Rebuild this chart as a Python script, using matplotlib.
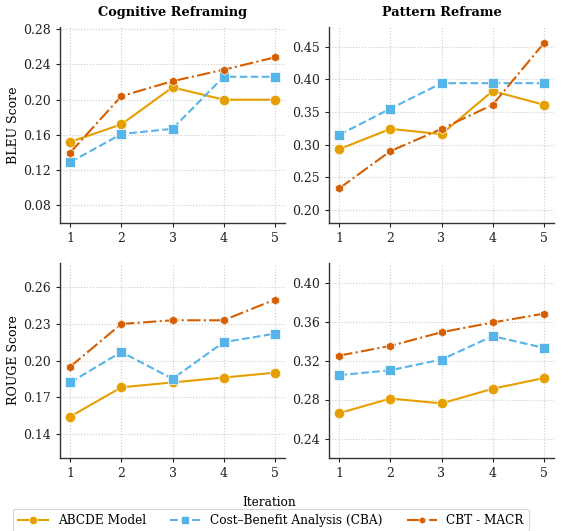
import matplotlib
matplotlib.use("Agg")
import matplotlib.pyplot as plt
from matplotlib.ticker import FixedLocator, FormatStrFormatter

plt.rcParams["font.family"] = ["DejaVu Serif"]

iterations = [1, 2, 3, 4, 5]
methods = ["ABCDE Model", "Cost\u2013Benefit Analysis (CBA)", "CBT - MACR"]

bleu_cognitive = {
    "ABCDE Model": [0.152, 0.172, 0.214, 0.200, 0.200],
    "Cost\u2013Benefit Analysis (CBA)": [0.129, 0.161, 0.167, 0.226, 0.226],
    "CBT - MACR": [0.140, 0.204, 0.221, 0.234, 0.248],
}
bleu_pattern = {
    "ABCDE Model": [0.293, 0.324, 0.316, 0.382, 0.361],
    "Cost\u2013Benefit Analysis (CBA)": [0.315, 0.355, 0.394, 0.394, 0.394],
    "CBT - MACR": [0.233, 0.290, 0.324, 0.361, 0.455],
}
rouge_cognitive = {
    "ABCDE Model": [0.154, 0.178, 0.182, 0.186, 0.190],
    "Cost\u2013Benefit Analysis (CBA)": [0.182, 0.207, 0.185, 0.215, 0.222],
    "CBT - MACR": [0.195, 0.230, 0.233, 0.233, 0.250],
}
rouge_pattern = {
    "ABCDE Model": [0.266, 0.281, 0.276, 0.291, 0.302],
    "Cost\u2013Benefit Analysis (CBA)": [0.305, 0.310, 0.321, 0.345, 0.333],
    "CBT - MACR": [0.325, 0.335, 0.349, 0.359, 0.368],
}

col_titles = ["Cognitive Reframing", "Pattern Reframe"]
row_labels = ["BLEU Score", "ROUGE Score"]

styles = {
    "ABCDE Model": dict(color="#E69F00", ls="-", marker="o", ms=7.5),
    "Cost\u2013Benefit Analysis (CBA)": dict(color="#56B4E9", ls="--", marker="s", ms=7),
    "CBT - MACR": dict(color="#D55E00", ls="-.", marker="h", ms=6.5),
}

panels = [
    (bleu_cognitive, (0.06, 0.2825), [0.08, 0.12, 0.16, 0.20, 0.24, 0.28], "%.2f"),
    (bleu_pattern, (0.18, 0.48), [0.20, 0.25, 0.30, 0.35, 0.40, 0.45], "%.2f"),
    (rouge_cognitive, (0.12, 0.28), [0.14, 0.17, 0.20, 0.23, 0.26], "%.2f"),
    (rouge_pattern, (0.22, 0.42), [0.24, 0.28, 0.32, 0.36, 0.40], "%.2f"),
]

W, H = 563, 531
fig = plt.figure(figsize=(W / 100, H / 100), dpi=100)

boxes = [
    (60, 27, 225, 196),
    (329, 27, 225, 196),
    (60, 263, 225, 195),
    (329, 263, 225, 195),
]

handles = []
for i, (data, ylim, yticks, fmt) in enumerate(panels):
    x0, y0, w, h = boxes[i]
    ax = fig.add_axes([x0 / W, 1 - (y0 + h) / H, w / W, h / H])
    for m in methods:
        st = styles[m]
        ln, = ax.plot(iterations, data[m], color=st["color"], ls=st["ls"], lw=1.5,
                      marker=st["marker"], ms=st["ms"], mec=(1, 1, 1, 0.7), mew=0.7,
                      label=m, zorder=3)
        if i == 0:
            handles.append(ln)
    ax.set_xlim(0.8, 5.2)
    ax.set_ylim(*ylim)
    ax.set_xticks(iterations)
    ax.yaxis.set_major_locator(FixedLocator(yticks))
    ax.yaxis.set_major_formatter(FormatStrFormatter(fmt))
    ax.grid(True, ls=":", color="#cccccc", lw=0.8)
    ax.set_axisbelow(True)
    for s in ("top", "right"):
        ax.spines[s].set_visible(False)
    for s in ("left", "bottom"):
        ax.spines[s].set_color("#333333")
        ax.spines[s].set_linewidth(1.0)
    ax.tick_params(labelsize=9, colors="#222222", length=3, width=0.8)
    if i < 2:
        ax.set_title(col_titles[i], fontsize=9.3, fontweight="bold", pad=8)
    if i % 2 == 0:
        ax.set_ylabel(row_labels[i // 2], fontsize=9, labelpad=2.5)

fig.text(269 / W, 1 - 502 / H, "Iteration", ha="center", va="center", fontsize=8.7)

leg = fig.legend(handles, methods, loc="upper left", ncol=3,
                 bbox_to_anchor=(13 / W, 1 - 509 / H), frameon=True,
                 fontsize=8.7, handlelength=2.5, handletextpad=0.8,
                 columnspacing=2.0, markerscale=0.8, borderaxespad=0,
                 borderpad=0.4, fancybox=True)
leg.get_frame().set_edgecolor("#cccccc")
leg.get_frame().set_linewidth(0.8)

fig.savefig("out.png", dpi=100)
